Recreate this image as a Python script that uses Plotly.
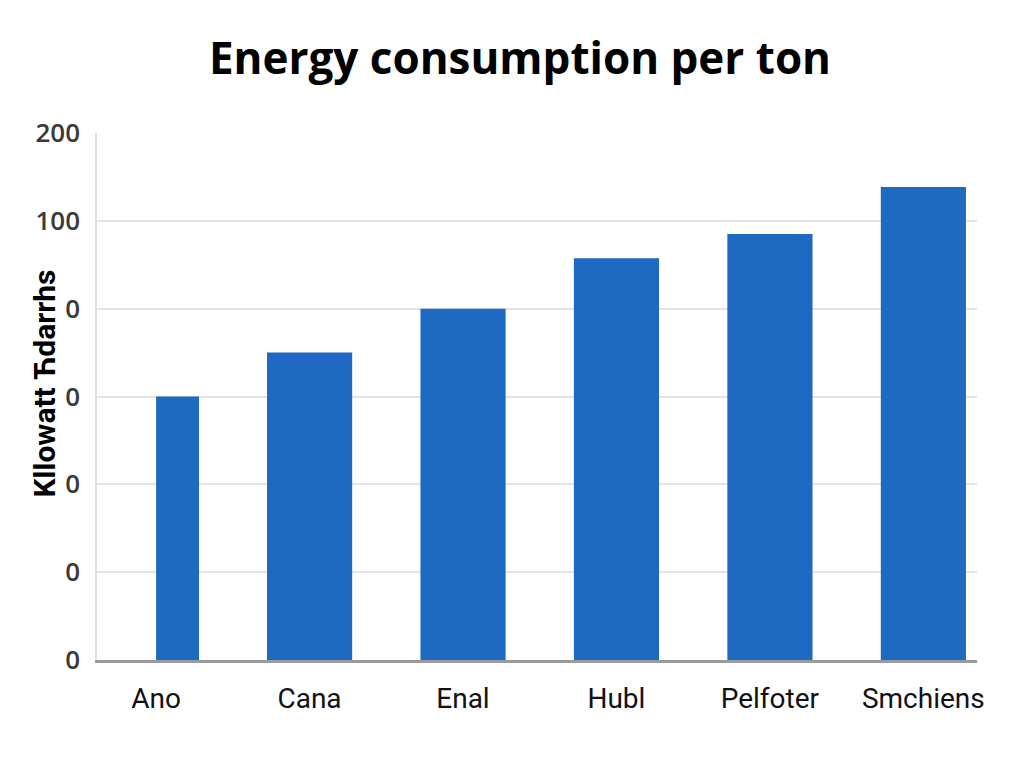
import plotly.graph_objects as go

categories = ["Ano", "Cana", "Enal", "Hubl", "Pelfoter", "Smchiens"]
values = [60, 70, 80, 91.5, 97, 107.7]
bar_widths = [0.28, 0.555, 0.555, 0.555, 0.555, 0.555]
bar_offsets = [0.0, -0.277, -0.277, -0.277, -0.277, -0.277]
tick_vals = [0, 20, 40, 60, 80, 100, 120]
tick_text = ["0", "0", "0", "0", "0", "100", "200"]

fig = go.Figure(
    go.Bar(
        x=categories,
        y=values,
        width=bar_widths,
        offset=bar_offsets,
        marker=dict(color="#1e69c1", line=dict(width=0)),
    )
)

fig.update_layout(
    width=1024,
    height=768,
    paper_bgcolor="white",
    plot_bgcolor="white",
    margin=dict(l=89, r=55, t=125, b=116),
    showlegend=False,
    title=dict(
        text="Energy consumption per ton",
        x=0.5,
        xanchor="center",
        y=0.934,
        yanchor="middle",
        font=dict(family="Open Sans", size=44, color="#000000", weight=700),
    ),
    annotations=[
        dict(
            text="Kllowatt Ћdarrhs",
            xref="paper",
            yref="paper",
            x=-0.06,
            y=0.525,
            xanchor="center",
            yanchor="middle",
            textangle=-90,
            showarrow=False,
            font=dict(family="Roboto", size=30, color="#000000", weight=700),
        )
    ],
)

fig.update_xaxes(
    type="category",
    range=[-0.385, 5.35],
    showgrid=False,
    showline=True,
    linecolor="#9a9a9a",
    linewidth=3,
    ticks="",
    tickfont=dict(family="Roboto", size=28, color="#111111", weight=400),
    ticklabelstandoff=11,
)

fig.update_yaxes(
    range=[0, 120],
    tickvals=tick_vals,
    ticktext=tick_text,
    showgrid=True,
    gridcolor="#e4e4e4",
    gridwidth=1.5,
    zeroline=False,
    showline=True,
    linecolor="#e0e0e0",
    linewidth=1.5,
    ticks="",
    tickfont=dict(family="Open Sans", size=26, color="#3a3a3a", weight=600),
    ticklabelstandoff=10,
)

fig.write_html("out.html")
